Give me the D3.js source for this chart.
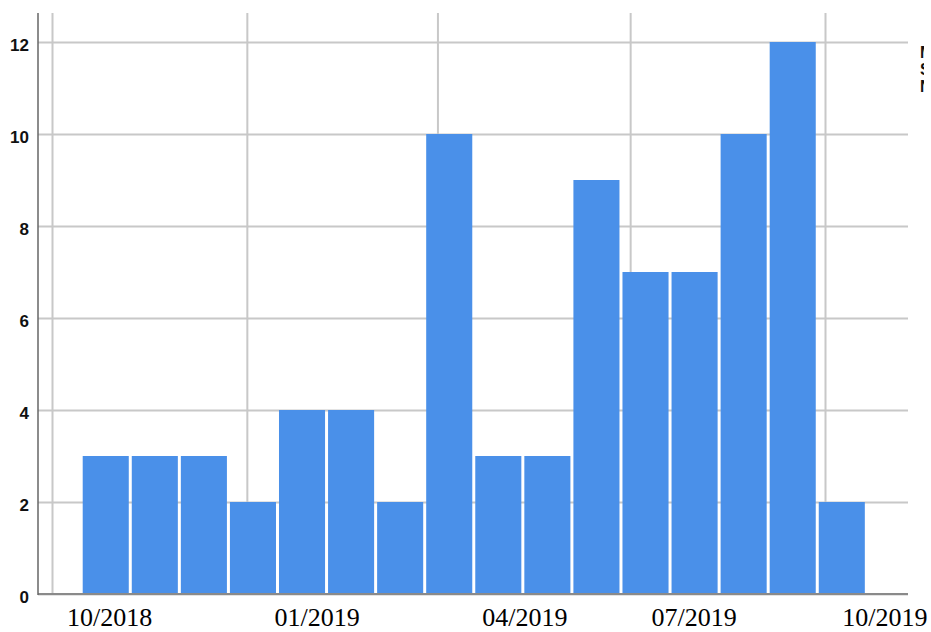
<!DOCTYPE html>
<html>
<head>
<meta charset="utf-8">
<script src="https://cdn.jsdelivr.net/npm/d3@7"></script>
<style>
  html, body { margin: 0; padding: 0; background: #fff; }
  svg { display: block; }
</style>
</head>
<body>
<svg id="chart" width="931" height="632"></svg>
<script>
// ---- data ----
const counts = [3, 3, 3, 2, 4, 4, 2, 10, 3, 3, 9, 7, 7, 10, 12, 2];
const binStart = "2018-10-14 19";
const binDays = 23.17;
const gridDates = ["2018-10-01", "2019-01-01", "2019-04-01", "2019-07-01", "2019-10-01"];
const tickLabels = ["10/2018", "01/2019", "04/2019", "07/2019", "10/2019"];
const labelDates = ["2018-10-28", "2019-02-03", "2019-05-12", "2019-07-31", "2019-10-29"];
const yTicks = [0, 2, 4, 6, 8, 10, 12];
const legendLines = ["Mean = 15.05.2019", "Std. Dev. = 103,0", "N = 84"];

// ---- setup ----
(function () {
const parse = d3.timeParse("%Y-%m-%d");
const parseH = d3.timeParse("%Y-%m-%d %H");
const svg = d3.select("#chart");
const W = 931, H = 632;
const pLeft = 38, pRight = 908, pTop = 13, pBottom = 594;

const x = d3.scaleTime()
  .domain([parse("2018-10-01"), parse("2019-10-01")])
  .range([52, 825]);
const y = d3.scaleLinear().domain([0, 12]).range([pBottom, 42]);

const start = parseH(binStart);
const dayMs = 86400000;
const bins = counts.map((c, i) => ({
  x0: new Date(start.getTime() + i * binDays * dayMs),
  x1: new Date(start.getTime() + (i + 1) * binDays * dayMs),
  v: c
}));

svg.append("rect").attr("width", W).attr("height", H).attr("fill", "#fff");

// horizontal gridlines via axis
const yGrid = svg.append("g")
  .attr("transform", `translate(${pLeft},0)`)
  .call(d3.axisRight(y).tickValues(yTicks).tickSize(pRight - pLeft).tickFormat(""));
yGrid.select(".domain").remove();
yGrid.selectAll("line").attr("stroke", "#c8c8c8").attr("stroke-width", 2);

// vertical gridlines via axis
const xGrid = svg.append("g")
  .attr("transform", `translate(0,${pTop})`)
  .call(d3.axisBottom(x).tickValues(gridDates.map(parse)).tickSize(pBottom - pTop).tickFormat(""));
xGrid.select(".domain").remove();
xGrid.selectAll("line").attr("stroke", "#c8c8c8").attr("stroke-width", 2);

// bars
svg.append("g").selectAll("rect")
  .data(bins)
  .join("rect")
  .attr("x", d => x(d.x0) + 1.5)
  .attr("width", d => x(d.x1) - x(d.x0) - 3)
  .attr("y", d => y(d.v))
  .attr("height", d => y(0) - y(d.v))
  .attr("fill", "#4a90e9");

// x axis line
svg.append("line")
  .attr("x1", pLeft).attr("x2", pRight)
  .attr("y1", pBottom).attr("y2", pBottom)
  .attr("stroke", "#8a8a8a").attr("stroke-width", 2);

// y axis
const yAxis = svg.append("g")
  .attr("transform", `translate(${pLeft},0)`)
  .call(d3.axisLeft(y).tickValues(yTicks).tickSize(0).tickPadding(9).tickFormat(d3.format("d")));
yAxis.select(".domain").remove();
yAxis.selectAll("text")
  .attr("font-family", "Liberation Sans, Arial, sans-serif")
  .attr("font-weight", "bold")
  .attr("font-size", 17)
  .attr("fill", "#111")
  .attr("dy", "0.5em");
svg.append("line")
  .attr("x1", pLeft).attr("x2", pLeft)
  .attr("y1", pTop).attr("y2", pBottom + 1)
  .attr("stroke", "#666").attr("stroke-width", 1.5);

// x tick labels
const xAxis = svg.append("g")
  .attr("transform", `translate(0,${pBottom})`)
  .call(d3.axisBottom(x).tickValues(labelDates.map(parse)).tickSize(0).tickPadding(0)
    .tickFormat((d, i) => tickLabels[i]));
xAxis.select(".domain").remove();
xAxis.selectAll("text")
  .attr("font-family", "Liberation Serif, Times New Roman, serif")
  .attr("font-size", 26)
  .attr("fill", "#000")
  .attr("dy", null)
  .attr("y", 32);

// clipped legend
svg.append("clipPath").attr("id", "legclip")
  .append("rect").attr("x", 0).attr("y", 0).attr("width", 924).attr("height", H);
svg.append("g").attr("clip-path", "url(#legclip)")
  .selectAll("text")
  .data(legendLines)
  .join("text")
  .attr("x", 920)
  .attr("y", (d, i) => 58 + i * 17)
  .attr("font-family", "Liberation Sans, Arial, sans-serif")
  .attr("font-weight", "bold")
  .attr("font-size", 16)
  .attr("fill", "#111")
  .text(d => d);
})();
</script>
</body>
</html>
